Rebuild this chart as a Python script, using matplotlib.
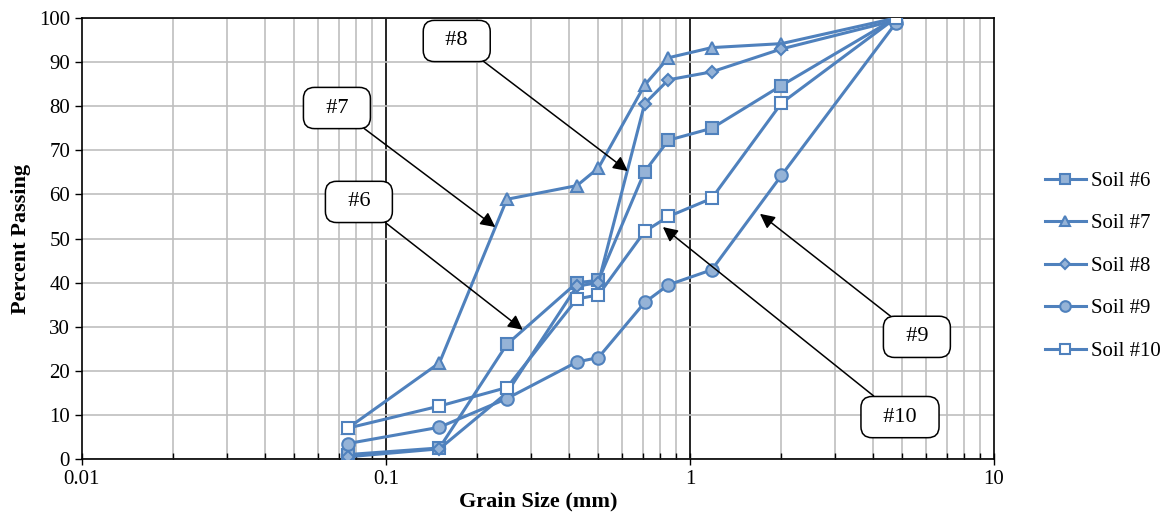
import numpy as np
import matplotlib
matplotlib.use("Agg")
import matplotlib.pyplot as plt
from matplotlib.ticker import FixedLocator, LogLocator, NullFormatter

plt.rcParams['font.family'] = ['Liberation Serif', 'DejaVu Serif']

# sieve sizes (mm)
grain_size = [0.075, 0.15, 0.25, 0.425, 0.5, 0.71, 0.85, 1.18, 2.0, 4.75]

soil_6 = [1.0, 2.5, 26.0, 40.0, 40.5, 65.2, 72.3, 75.0, 84.7, 100.0]
soil_7 = [7.0, 21.8, 58.9, 62.0, 66.0, 84.8, 91.0, 93.3, 94.2, 100.0]
soil_8 = [0.5, 2.3, 15.0, 39.2, 40.0, 80.6, 86.0, 87.8, 93.0, 99.5]
soil_9 = [3.5, 7.2, 13.7, 22.0, 23.0, 35.5, 39.5, 42.9, 64.3, 98.8]
soil_10 = [7.0, 12.0, 16.2, 36.3, 37.2, 51.6, 55.0, 59.1, 80.7, 100.0]

labels = ["Soil #6", "Soil #7", "Soil #8", "Soil #9", "Soil #10"]

# annotation callouts: text, box position, arrow tip (data coords)
notes = ["#8", "#7", "#6", "#9", "#10"]
note_box = [(0.171, 94.8), (0.069, 79.6), (0.0815, 58.3), (5.58, 27.7), (4.91, 9.5)]
note_tip = [(0.625, 65.3), (0.229, 52.6), (0.282, 29.3), (1.70, 55.6), (0.815, 52.6)]

line_c = "#4F81BD"
fill_c = "#95B3D7"

fig = plt.figure(figsize=(11.7, 5.16), dpi=100)
ax = fig.add_axes([0.070, 0.1105, 0.7795, 0.8545])

styles = [
    dict(marker="s", markersize=8.5, markerfacecolor=fill_c),
    dict(marker="^", markersize=9, markerfacecolor=fill_c),
    dict(marker="D", markersize=6, markerfacecolor=fill_c),
    dict(marker="o", markersize=9, markerfacecolor=fill_c),
    dict(marker="s", markersize=8.5, markerfacecolor="white"),
]
for ys, lab, st in zip([soil_6, soil_7, soil_8, soil_9, soil_10], labels, styles):
    ax.plot(grain_size, ys, color=line_c, linewidth=2.2, markeredgecolor=line_c,
            markeredgewidth=1.5, label=lab, zorder=3, **st)

ax.set_xscale("log")
ax.set_xlim(0.01, 10)
ax.set_ylim(0, 100)
ax.set_yticks(np.arange(0, 101, 10))
ax.xaxis.set_major_locator(FixedLocator([0.01, 0.1, 1, 10]))
ax.set_xticklabels(["0.01", "0.1", "1", "10"])
ax.xaxis.set_minor_locator(LogLocator(base=10, subs=np.arange(2, 10)))
ax.xaxis.set_minor_formatter(NullFormatter())

ax.grid(True, which="minor", axis="x", color="#BFBFBF", linewidth=1.2, zorder=0)
ax.grid(True, which="major", axis="y", color="#BFBFBF", linewidth=1.2, zorder=0)
for xv in [0.1, 1]:
    ax.axvline(xv, color="black", linewidth=1.2, zorder=1)

ax.tick_params(axis="y", which="major", labelsize=15, direction="out", length=5, width=1)
ax.tick_params(axis="x", which="major", labelsize=15, direction="inout", length=9, width=1)
ax.tick_params(axis="x", which="minor", direction="in", length=4, width=1)
for sp in ax.spines.values():
    sp.set_linewidth(1.2)

ax.set_xlabel("Grain Size (mm)", fontsize=16, fontweight="bold", labelpad=2)
ax.set_ylabel("Percent Passing", fontsize=16, fontweight="bold", labelpad=6)

for txt, box, tip in zip(notes, note_box, note_tip):
    ax.annotate("  " + txt + "  ", xy=tip, xytext=box, fontsize=16, ha="center", va="center", zorder=5,
                bbox=dict(boxstyle="round,pad=0.5,rounding_size=0.5", fc="white", ec="black", lw=1.1),
                arrowprops=dict(arrowstyle="-|>", color="black", lw=1.1, mutation_scale=22,
                                shrinkA=0, shrinkB=0))

ax.legend(loc="center left", bbox_to_anchor=(1.0, 0.4376), frameon=False, fontsize=15,
          handlelength=1.95, labelspacing=1.1, handletextpad=0.25, borderaxespad=2.05,
          markerscale=0.85)

fig.savefig("out.png", dpi=100)
